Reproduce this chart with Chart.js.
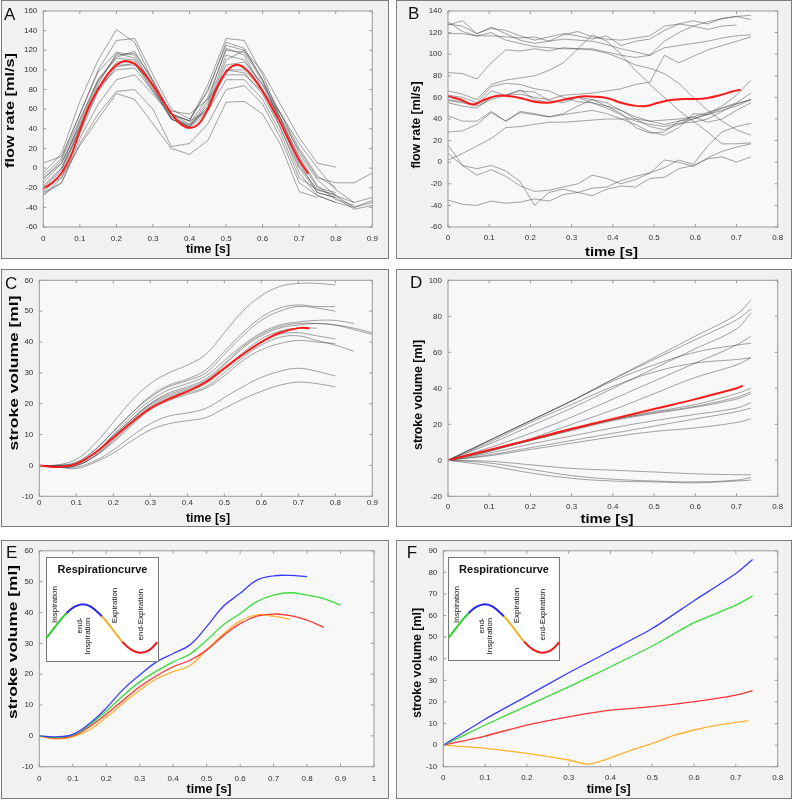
<!DOCTYPE html>
<html><head><meta charset="utf-8">
<script src="https://cdn.jsdelivr.net/npm/chart.js@4.4.0/dist/chart.umd.min.js"></script>
<style>
body{margin:0;background:#fff;width:793px;height:800px;position:relative;overflow:hidden;font-family:"Liberation Sans",Arial,sans-serif}
.box{position:absolute;box-sizing:border-box;border:1.5px solid #7c7c7c;background:#f1f1f1}
.inset{position:absolute;box-sizing:border-box;border:1.5px solid #777;background:#fff}
canvas{position:absolute}
</style></head><body>
<script>
// ---------- DATA ----------
// Panel A: flow rate [ml/s]
const timeA = [0,0.05,0.1,0.15,0.2,0.25,0.3,0.35,0.4,0.45,0.5,0.55,0.6,0.65,0.7,0.75,0.8,0.85,0.9];
const flowA = [
 [-5,15,68,110,141,128,88,55,48,85,132,130,95,50,5,-25,-30,null,null],
 [-8,10,55,100,130,132,95,60,50,78,128,122,90,55,15,-12,-28,-35,null],
 [-15,5,45,88,115,117,90,55,45,72,120,118,88,50,10,-20,-25,null,null],
 [-20,0,48,90,113,119,88,52,43,68,122,115,80,40,-5,-28,-35,-40,-35],
 [-22,-2,42,85,117,112,85,50,42,65,115,110,85,48,12,-18,-32,-38,null],
 [-12,8,50,90,112,110,82,50,42,62,110,120,98,64,31,5,1,null,null],
 [-25,-5,40,82,108,108,80,52,44,62,105,108,85,55,20,-8,-20,null,null],
 [-18,0,38,80,105,105,85,55,40,58,100,100,80,50,18,-10,-15,-15,-5],
 [-28,-10,35,78,103,107,78,50,42,60,100,97,75,40,0,-25,-30,-42,-38],
 [-10,5,42,82,100,102,78,58,55,70,95,95,78,55,25,0,-22,-35,-30],
 [-25,-15,30,65,90,95,75,55,48,58,90,90,70,35,-10,-22,-28,-40,-33],
 [-27,-15,25,55,78,80,60,22,25,45,80,84,65,30,-15,-28,-35,null,null],
 [-20,-10,23,50,76,70,45,20,14,28,67,68,55,23,-24,-30,null,null,null],
 [5,12,55,98,118,115,85,55,48,80,125,120,90,45,2,-22,-27,null,null]
];
const meanTimeA = [0,0.025,0.05,0.075,0.1,0.125,0.15,0.175,0.2,0.225,0.25,0.275,0.3,0.325,0.35,0.375,0.4,0.425,0.45,0.475,0.5,0.525,0.55,0.575,0.6,0.625,0.65,0.675,0.7,0.725];
const meanFlowA = [-21,-15,-5,12,38,63,80,95,105,109,106,97,84,70,56,45,41,45,60,82,98,105,102,92,78,62,45,26,8,-6];

// Panel B: flow rate [ml/s]
const timeB = [0,0.035,0.07,0.105,0.14,0.175,0.21,0.245,0.28,0.315,0.35,0.385,0.42,0.455,0.49,0.525,0.56,0.595,0.63,0.665,0.7,0.735];
const flowB = [
 [127,131,119,124,122,117,113,116,119,117,114,117,108,112,114,122,128,131,128,133,135,132],
 [119,119,117,117,116,115,116,112,118,121,116,114,113,115,117,126,128,126,123,126,127,null],
 [128,126,119,125,119,113,110,112,114,113,112,109,105,102,99,112,120,126,130,133,135,136],
 [130,121,117,120,113,110,107,106,105,105,104,101,96,90,87,82,73,60,48,38,30,25],
 [83,82,77,92,104,103,105,103,106,105,105,102,99,97,99,106,108,110,112,115,117,118],
 [66,63,58,72,76,78,80,85,92,105,118,112,100,85,72,60,48,38,28,17,17,18],
 [57,55,52,58,62,63,60,58,62,63,64,66,68,72,74,99,92,98,104,108,112,116],
 [62,60,55,70,73,72,68,66,60,56,55,52,48,42,38,35,38,40,45,52,62,76],
 [58,56,53,66,62,66,65,57,55,60,58,55,48,40,33,30,35,40,44,50,55,64],
 [55,52,50,60,62,67,58,55,57,60,55,50,44,38,35,33,36,37,40,47,54,58],
 [43,38,38,47,38,46,44,42,44,46,48,45,40,35,28,25,32,45,44,48,52,58],
 [28,29,35,46,38,47,45,42,45,52,58,52,45,32,27,28,38,42,37,40,48,55],
 [2,8,15,22,32,33,35,37,37,38,39,40,40,40,38,39,40,42,46,50,54,58],
 [16,-3,-12,-7,-13,-22,-27,-26,-23,-20,-12,-15,-20,-16,-10,-5,2,-2,15,28,33,36],
 [8,-3,-6,-3,-8,-18,-40,-28,-25,-28,-24,-23,-17,-13,-10,2,0,-4,4,10,14,17],
 [-35,-39,-40,-36,-38,-37,-34,-36,-30,-28,-31,-25,-22,-23,-15,-14,-6,-3,3,5,0,5]
];
const meanTimeB = [0,0.03,0.06,0.09,0.12,0.15,0.18,0.21,0.24,0.27,0.3,0.33,0.36,0.39,0.42,0.45,0.48,0.51,0.54,0.57,0.6,0.63,0.66,0.69,0.71];
const meanFlowB = [61,58,53.5,58,61.5,61,59,56,55,57,59.5,61,60.5,59,55,52.5,52,55,57.5,58.5,58.5,59.5,62,65.5,67];

// Panel C: stroke volume [ml]
const timeC = [0,0.05,0.1,0.15,0.2,0.25,0.3,0.35,0.4,0.45,0.5,0.55,0.6,0.65,0.7,0.75,0.8,0.85,0.9];
const volumeC = [
 [0,0.2,2,7,14,21,26.5,30,32.5,36,43,50,55,58,59,59,58.5,null,null],
 [0,0,1,5,11,17,22.5,26,28,31,37,43,48,51,52,51.5,51.5,null,null],
 [0,0,1,5,11,17,22,25.5,27.5,30,36,42,47,50,51.5,51,50,null,null],
 [0,0,0.5,4,10,16,21,24.5,26.5,29,34,39,43,45.5,46.5,47,47,46,null],
 [0,-0.3,0.5,4,9.5,15,20,23.5,25.5,28,33,38.5,42.5,45,46,46,45.5,44,42.5],
 [0,-0.3,0.5,4,9.5,15,20,23,25,27.5,32.5,38,42,44.5,45.5,46,45.5,44.5,43],
 [0,-0.5,0.5,4,9,14.5,19.5,22.5,24.5,27,31.5,36.5,41,43.5,44.5,44.5,null,null,null],
 [0,-0.5,0,3,8.5,14,19,22,24,26.5,31,36,40,42.5,43,42,41,null,null],
 [0,-0.5,0,3,8,13.5,18.5,21.5,23.5,25.5,30,35,39,41.5,42,40.5,39,37,null],
 [0,-0.5,0,3,7.5,13,18,21,23,25,29,34,37.5,39.5,40.5,40,39.5,null,null],
 [0,-0.5,-0.5,1.5,5,9.5,13.5,16,17,18.5,22,25.5,28.5,30.5,31.5,30.5,29,null,null],
 [0,-0.5,-1,1,4,8,11.5,13.5,14.5,15.5,18.5,21.5,24,26,27,26.5,25.5,null,null]
];
const meanTimeC = [0,0.05,0.1,0.15,0.2,0.25,0.3,0.35,0.4,0.45,0.5,0.55,0.6,0.65,0.7,0.73];
const meanVolumeC = [0,-0.5,0.5,4,9,14,18.5,21.5,24,27,31.5,36,40,43,44.5,44.5];

// Panel D: stroke volume [ml]
const timeD = [0,0.1,0.2,0.3,0.4,0.5,0.6,0.7,0.735];
const volumeD = [
 [0,11,22,33,45,57,69,81,89],
 [0,11,22,33,45,56,67,78,84],
 [0,9,19,29,40,51,62,73,82],
 [0,7,15,24,34,44,54,64,69],
 [0,11,22,33,44,53,60,64,65],
 [0,10,21,31,41,49,54,56,57],
 [0,5,12,20,28,37,46,53,57],
 [0,5.5,11,17,22.5,27,31,37,40],
 [0,5.5,11,17,22.5,26.5,30,35,38],
 [0,5,11,16.5,22,26,29.5,34,37],
 [0,4,9,13.5,18,22,25.5,29,32],
 [0,3,7,11,15,19,23,27,29],
 [0,2.5,6,9.5,13,16,18,21,23],
 [0,-0.5,-2.5,-4.5,-5.5,-6.5,-7.5,-8,-8],
 [0,-1.5,-5,-8.5,-10.5,-11.5,-12,-11,-9.5],
 [0,-3,-7,-10,-11.5,-12,-12.5,-11.5,-11]
];
const meanTimeD = [0,0.1,0.2,0.3,0.4,0.5,0.6,0.7,0.715];
const meanVolumeD = [0,5.8,11.5,17.5,23,28.5,34,40,41.5];

// Panel E: stroke volume per respiratory phase
const timeE = [0,0.05,0.1,0.15,0.2,0.25,0.3,0.35,0.4,0.45,0.5,0.55,0.6,0.65,0.7,0.75,0.8,0.85,0.9];
const endInspE = [0,-0.3,0.5,4,9,15,19.7,24,26.7,29.5,35.4,42,46.2,50.5,51.9,52,51.6,null,null];
const inspE    = [0,-0.5,0.3,3.5,8,13,17.5,21,24,26.5,31,36,39.7,43.5,45.6,46.4,45.6,44.5,42.4];
const endExpE  = [0,-0.7,0,3,7,11.5,15.9,19.5,22.4,24.5,27.8,32.5,36.4,38.8,39.5,39,37.5,35.2,null];
const expE     = [0,-1,-0.3,2,6,10.5,14.8,18.5,20.8,22.8,28,33,37.3,39.2,38.8,37.8,null,null,null];

// Panel F
const timeF = [0,0.1,0.2,0.3,0.4,0.5,0.6,0.7,0.74];
const endInspF = [0,12,22.7,33.5,43.7,54,66.9,79.5,86];
const inspF    = [0,9.3,18.2,27,36.3,45.9,56.7,64.8,69];
const endExpF  = [0,4.2,9.3,13.1,16.2,17.8,20.1,23.2,25.2];
const timeExpF = [0,0.1,0.2,0.3,0.345,0.385,0.45,0.5,0.55,0.6,0.65,0.7,0.73];
const expF     = [0,-1.5,-3.8,-6.9,-8.8,-6.9,-2.3,0.8,4.4,7,9,10.5,11.3];

// Inset respiration curve
const respPhase = [0,10,20,28,36,44,55,65,75,84,93,102,110];
const respLevel = [-0.39,0.15,0.64,0.9,1.0,0.9,0.5,0.0,-0.54,-0.87,-1.0,-0.89,-0.57];
const respLabels = ['Inspiration','end-','Inspiration','Expiration','end-Expiration'];

// Tick labels
const ticks09 = [0,0.1,0.2,0.3,0.4,0.5,0.6,0.7,0.8,0.9];
const ticks08 = [0,0.1,0.2,0.3,0.4,0.5,0.6,0.7,0.8];
const ticks10 = [0,0.1,0.2,0.3,0.4,0.5,0.6,0.7,0.8,0.9,1];
const yTicksA = [-60,-40,-20,0,20,40,60,80,100,120,140,160];
const yTicksB = [-60,-40,-20,0,20,40,60,80,100,120,140];
const yTicksC = [-10,0,10,20,30,40,50,60];
const yTicksD = [-20,0,20,40,60,80,100];
const yTicksF = [-10,0,10,20,30,40,50,60,70,80,90];

// ---------- STYLE ----------
const GRAY = 'rgba(55,55,55,0.45)';
const RED = '#ff1a1a';
const C_BLUE = '#3b3bff', C_GREEN = '#39dd39', C_RED = '#ff3535', C_ORANGE = '#ffb22e';
const PLOT_BG = '#f8f8f8';
const FONT = "'Liberation Sans', Arial, sans-serif";

function pts(t, v){ const o=[]; for(let i=0;i<t.length;i++){ if(v[i]!==null && v[i]!==undefined) o.push({x:t[i],y:v[i]}); } return o; }
function grayDs(t, list, tension){ return list.map(v=>({data:pts(t,v),borderColor:GRAY,borderWidth:1,tension:tension,pointRadius:0})); }
function lineDs(t, v, color, w, tension){ return {data:pts(t,v),borderColor:color,borderWidth:w,tension:tension,pointRadius:0}; }

const panels = [
 {key:'A', box:[1,0,389,259], plot:[43.3,11,372.3,227], xr:[0,0.9], yr:[-60,160], xt:ticks09, yt:yTicksA,
  letter:[4,20], xTitle:['time [s]',208,249,44], yTitle:['flow rate [ml/s]',10,110.5,115], xPad:7.2,
  ds:[lineDs(meanTimeA,meanFlowA,RED,2,0.4)].concat(grayDs(timeA,flowA,0))},
 {key:'B', box:[396,0,792,259], plot:[448,11,777.7,227], xr:[0,0.8], yr:[-60,140], xt:ticks08, yt:yTicksB,
  letter:[408,18.5], xTitle:['time [s]',611.5,252,53], yTitle:['flow rate [ml/s]',416.7,125,87], xPad:5.9,
  ds:[lineDs(meanTimeB,meanFlowB,RED,2,0.4)].concat(grayDs(timeB,flowB,0))},
 {key:'C', box:[1,269,389,527], plot:[39.3,280.3,372.3,496.3], xr:[0,0.9], yr:[-10,60], xt:ticks09, yt:yTicksC,
  letter:[5,288.7], xTitle:['time [s]',208,518.5,44], yTitle:['stroke volume [ml]',14,373,155], xPad:1.6,
  ds:[lineDs(meanTimeC,meanVolumeC,RED,2,0.4)].concat(grayDs(timeC,volumeC,0.4))},
 {key:'D', box:[396,269,792,527], plot:[448,280.3,777.7,496.3], xr:[0,0.8], yr:[-20,100], xt:ticks08, yt:yTicksD,
  letter:[410,288], xTitle:['time [s]',607,519,53], yTitle:['stroke volume [ml]',418,395,110], xPad:6,
  ds:[lineDs(meanTimeD,meanVolumeD,RED,2,0.4)].concat(grayDs(timeD,volumeD,0.4))},
 {key:'E', box:[1,540,389,799], plot:[39.3,550.7,374,766.7], xr:[0,1], yr:[-10,60], xt:ticks10, yt:yTicksC,
  letter:[6,558], xTitle:['time [s]',209,789,45], yTitle:['stroke volume [ml]',13,642,154], xPad:6.8,
  ds:[lineDs(timeE,endInspE,C_BLUE,1.3,0.4),lineDs(timeE,inspE,C_GREEN,1.3,0.4),lineDs(timeE,endExpE,C_RED,1.3,0.4),lineDs(timeE,expE,C_ORANGE,1.3,0.4)],
  inset:[46,557,113,105]},
 {key:'F', box:[396,540,792,799], plot:[443.3,550.7,777.7,766.7], xr:[0,0.8], yr:[-10,90], xt:ticks08, yt:yTicksF,
  letter:[406.7,558], xTitle:['time [s]',608.7,789,44], yTitle:['stroke volume [ml]',417,663,110], xPad:5.8,
  ds:[lineDs(timeF,endInspF,C_BLUE,1.3,0.2),lineDs(timeF,inspF,C_GREEN,1.3,0.2),lineDs(timeF,endExpF,C_RED,1.3,0.2),lineDs(timeExpF,expF,C_ORANGE,1.3,0.2)],
  inset:[448,557,112,104]}
];

function drawStretched(ctx, txt, cx, cy, len, vertical, font){
  ctx.save(); ctx.font = font; const w = ctx.measureText(txt).width;
  ctx.translate(cx, cy); if (vertical) ctx.rotate(-Math.PI/2);
  ctx.scale(len / w, 1); ctx.textAlign = 'center'; ctx.textBaseline = 'middle';
  ctx.fillStyle = '#080808'; ctx.fillText(txt, 0, 0); ctx.restore();
}
const fmt = v => String(Number(v.toFixed(2)));

function makePanel(p){
  const [bl,bt,br,bb] = p.box; const W = br-bl, H = bb-bt;
  const div = document.createElement('div'); div.className='box';
  Object.assign(div.style,{left:bl+'px',top:bt+'px',width:W+'px',height:H+'px'});
  document.body.appendChild(div);
  const cv = document.createElement('canvas'); cv.width=W; cv.height=H;
  Object.assign(cv.style,{left:bl+'px',top:bt+'px',width:W+'px',height:H+'px',zIndex:1});
  document.body.appendChild(cv);
  const [pl,pt,pr,pb] = p.plot;
  const decor = {
    id:'decor',
    beforeDatasetsDraw(chart){
      const {ctx, chartArea:a} = chart; ctx.save(); ctx.fillStyle=PLOT_BG;
      ctx.fillRect(a.left,a.top,a.right-a.left,a.bottom-a.top); ctx.restore();
    },
    afterDatasetsDraw(chart){
      const {ctx, chartArea:a, scales} = chart; ctx.save();
      ctx.strokeStyle='#9a9a9a'; ctx.lineWidth=1;
      ctx.strokeRect(a.left,a.top,a.right-a.left,a.bottom-a.top);
      ctx.beginPath();
      p.xt.forEach(v=>{ const x=scales.x.getPixelForValue(v); ctx.moveTo(x,a.bottom); ctx.lineTo(x,a.bottom-3); ctx.moveTo(x,a.top); ctx.lineTo(x,a.top+3); });
      p.yt.forEach(v=>{ const y=scales.y.getPixelForValue(v); ctx.moveTo(a.left,y); ctx.lineTo(a.left+3,y); ctx.moveTo(a.right,y); ctx.lineTo(a.right-3,y); });
      ctx.stroke(); ctx.restore();
    },
    afterDraw(chart){
      const ctx = chart.ctx;
      ctx.save(); ctx.font = "17px "+FONT; ctx.fillStyle='#111'; ctx.textAlign='left'; ctx.textBaseline='alphabetic';
      ctx.fillText(p.key, p.letter[0]-bl, p.letter[1]-bt); ctx.restore();
      const bf = "bold 13px "+FONT;
      drawStretched(ctx, p.xTitle[0], p.xTitle[1]-bl, p.xTitle[2]-bt, p.xTitle[3], false, bf);
      drawStretched(ctx, p.yTitle[0], p.yTitle[1]-bl, p.yTitle[2]-bt, p.yTitle[3], true, bf);
    }
  };
  const tickFont = {family:FONT, size:8};
  new Chart(cv, {
    type:'line',
    data:{datasets:p.ds},
    options:{
      responsive:false, animation:false, devicePixelRatio:1,
      layout:{padding:{top:pt-bt, right:br-pr, left:0, bottom:0}},
      plugins:{legend:{display:false}, tooltip:{enabled:false}, title:{display:false}},
      elements:{point:{radius:0}},
      scales:{
        x:{type:'linear', min:p.xr[0], max:p.xr[1],
           afterBuildTicks:s=>{ s.ticks = p.xt.map(v=>({value:v})); },
           afterFit:s=>{ s.height = bb-pb; },
           ticks:{padding:p.xPad, font:tickFont, color:'#333', maxRotation:0, autoSkip:false, callback:fmt},
           grid:{display:false, drawTicks:false}, border:{display:false}},
        y:{type:'linear', min:p.yr[0], max:p.yr[1],
           afterBuildTicks:s=>{ s.ticks = p.yt.map(v=>({value:v})); },
           afterFit:s=>{ s.width = pl-bl; },
           ticks:{padding:6, font:tickFont, color:'#333', autoSkip:false, callback:fmt},
           grid:{display:false, drawTicks:false}, border:{display:false}}
      }
    },
    plugins:[decor]
  });
  if (p.inset) makeInset(p.inset);
}

function respColor(i){ return i<2 ? '#2fd12f' : i<6 ? '#2525ee' : i<8 ? '#f2b020' : '#ee1515'; }

function makeInset(r){
  const [l,t,w,h] = r;
  const div = document.createElement('div'); div.className='inset';
  Object.assign(div.style,{left:l+'px',top:t+'px',width:w+'px',height:h+'px',zIndex:2});
  document.body.appendChild(div);
  const cv = document.createElement('canvas'); cv.width=w; cv.height=h;
  Object.assign(cv.style,{left:l+'px',top:t+'px',width:w+'px',height:h+'px',zIndex:3});
  document.body.appendChild(cv);
  const labelPos = [[8.3,29],[33.5,60.5],[42,60.5],[68.6,30.7],[94.3,31.8]];
  const txt = {
    id:'insetText',
    afterDraw(chart){
      const ctx = chart.ctx; ctx.save();
      ctx.fillStyle='#111'; ctx.font="bold 11px "+FONT; ctx.textAlign='center'; ctx.textBaseline='alphabetic';
      ctx.fillText('Respirationcurve', w/2, 15.5);
      ctx.font = "8px "+FONT;
      respLabels.forEach((s,i)=>{
        ctx.save(); ctx.translate(labelPos[i][0], labelPos[i][1]); ctx.rotate(-Math.PI/2);
        ctx.textAlign='right'; ctx.textBaseline='middle'; ctx.fillText(s,0,0); ctx.restore();
      });
      ctx.restore();
    }
  };
  new Chart(cv, {
    type:'line',
    data:{datasets:[{data:pts(respPhase,respLevel), borderWidth:2, tension:0.4, pointRadius:0, clip:false,
      borderColor:'#2525ee', segment:{borderColor:c=>respColor(c.p0DataIndex)}}]},
    options:{
      responsive:false, animation:false, devicePixelRatio:1,
      layout:{padding:{top:47.3, bottom:h-95.7, left:0.5, right:w-111.3}},
      plugins:{legend:{display:false}, tooltip:{enabled:false}},
      scales:{x:{type:'linear', display:false, min:0, max:110}, y:{display:false, min:-1, max:1}}
    },
    plugins:[txt]
  });
}

panels.forEach(makePanel);
</script>
</body></html>
